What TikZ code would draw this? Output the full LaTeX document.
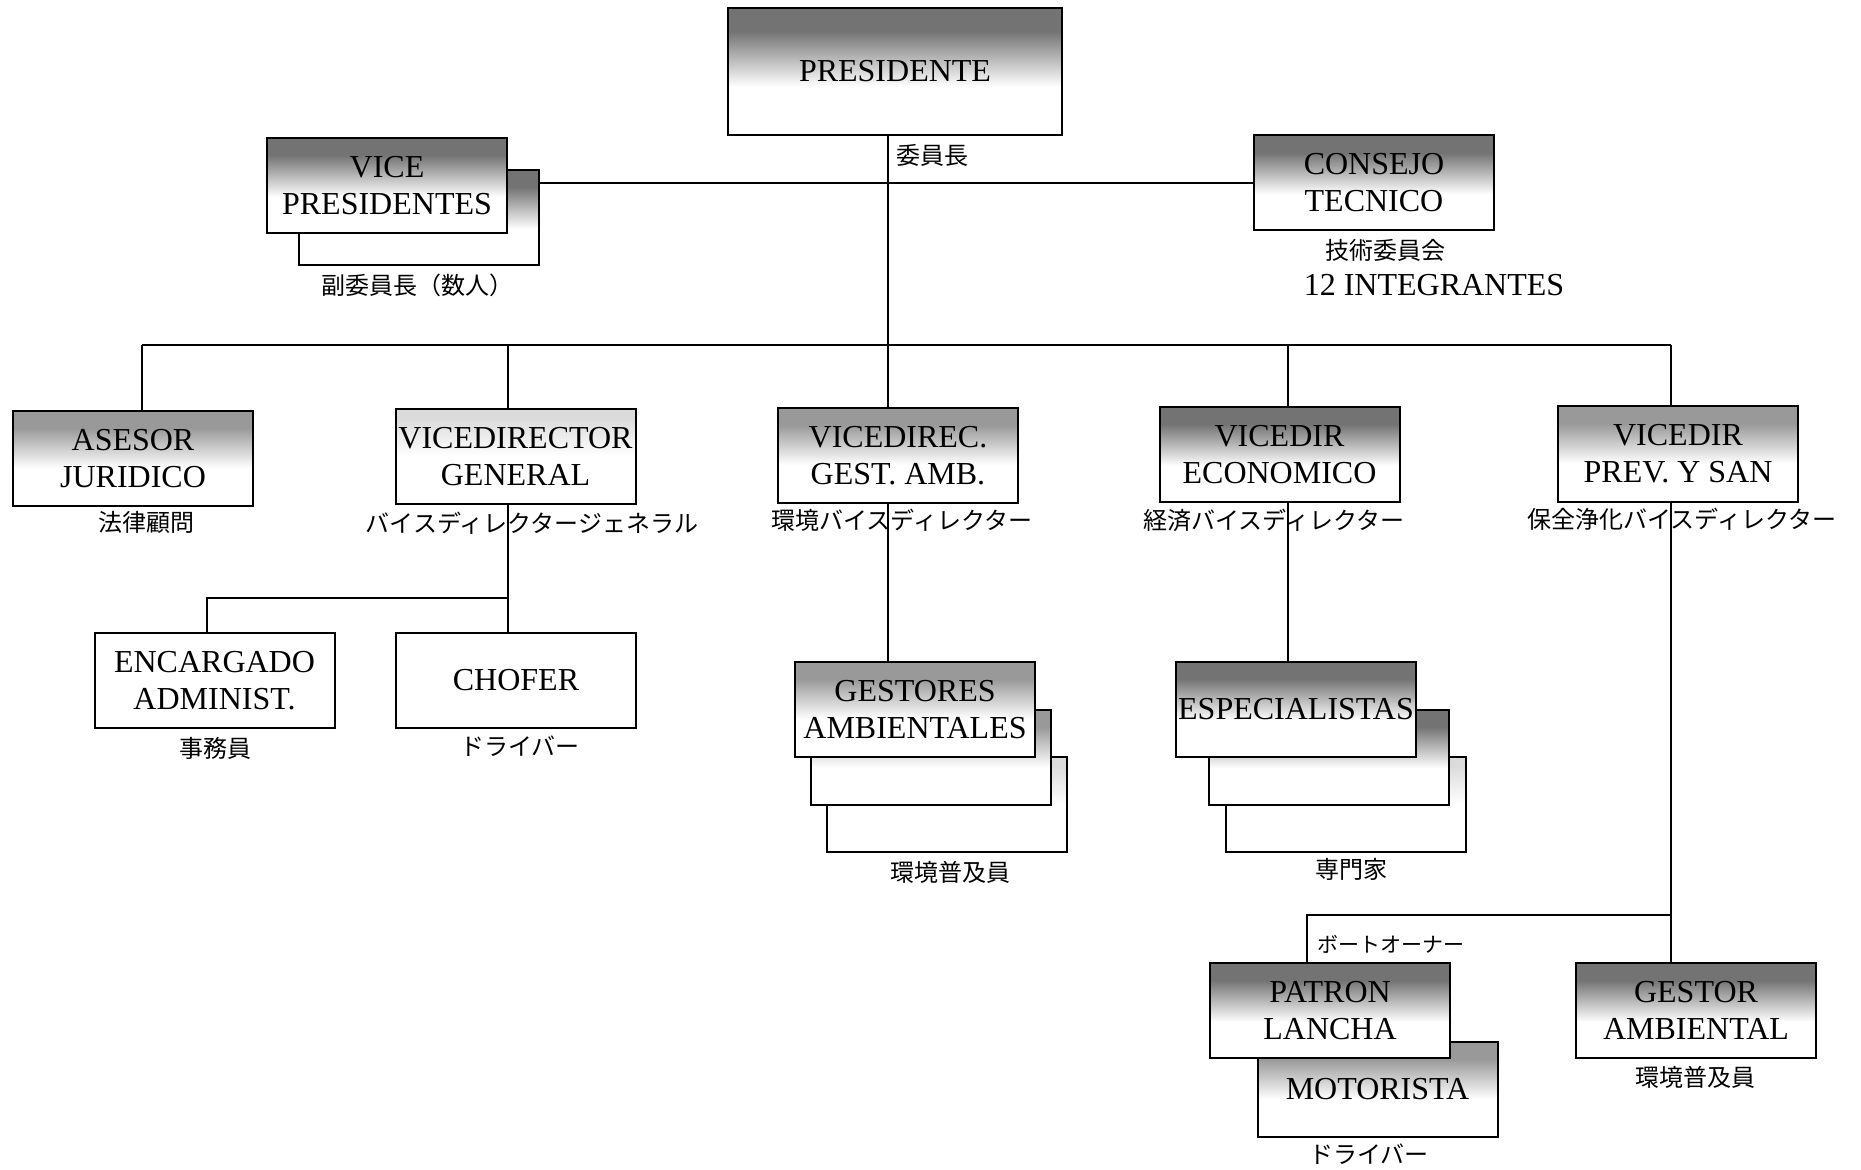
\documentclass[tikz,border=0pt]{standalone}
\usepackage{fontspec}
\setmainfont{Liberation Serif}
\newfontfamily\jp{Noto Sans CJK JP}
\pgfdeclareverticalshading{shdark}{100bp}{color(0bp)=(white); color(44bp)=(white); color(66bp)=(black!55); color(100bp)=(black!55)}
\pgfdeclareverticalshading{shmid}{100bp}{color(0bp)=(white); color(45bp)=(white); color(66bp)=(black!40); color(100bp)=(black!40)}
\pgfdeclareverticalshading{shlight}{100bp}{color(0bp)=(white); color(50bp)=(white); color(70bp)=(black!14); color(100bp)=(black!14)}
\tikzset{
  box/.style={draw=black, line width=1pt, inner sep=0pt, align=center,
    font=\fontsize{16}{18.5}\selectfont, minimum width=120pt, minimum height=47.5pt},
  dk/.style={shade, shading=shdark},
  md/.style={shade, shading=shmid},
  lt/.style={shade, shading=shlight},
  wt/.style={fill=white},
  jlab/.style={font=\jp\fontsize{12}{14}\selectfont, inner sep=0pt},
  conn/.style={line width=0.9pt}
}
\begin{document}
\begin{tikzpicture}[x=0.5pt,y=-0.5pt]
\useasboundingbox[fill=white] (0,0) rectangle (1861,1170);

% boxes
\node[box,dk,minimum width=167pt,minimum height=63.5pt] (pres) at (895,71.5) {PRESIDENTE};
\node[box,dk] (vpback) at (419,217.5) {};
\node[box,dk] (vp) at (387,185.5) {VICE\\PRESIDENTES};
\node[box,dk] (consejo) at (1374,183) {CONSEJO\\TECNICO};

\node[box,md] (asesor) at (133,458.5) {ASESOR\\JURIDICO};
\node[box,lt] (vdg) at (515.5,456.5) {VICEDIRECTOR\\GENERAL};
\node[box,md] (vdga) at (898,455.5) {VICEDIREC.\\GEST. AMB.};
\node[box,dk] (vde) at (1279.5,454.5) {VICEDIR\\ECONOMICO};
\node[box,md] (vdp) at (1678,454) {VICEDIR\\PREV. Y SAN};

\node[box,wt] (enc) at (214.5,680.5) {ENCARGADO\\ADMINIST.};
\node[box,wt] (chofer) at (516,680.5) {CHOFER};

\node[box,lt] (gest3) at (946.5,804.5) {};
\node[box,md] (gest2) at (931,757.5) {};
\node[box,md] (gest1) at (915,709.5) {GESTORES\\AMBIENTALES};

\node[box,lt] (esp3) at (1345.5,804) {};
\node[box,dk] (esp2) at (1329,757) {};
\node[box,dk] (esp1) at (1296,709) {ESPECIALISTAS};

\node[box,md] (motor) at (1377.5,1089.5) {MOTORISTA};
\node[box,dk] (patron) at (1330,1010.5) {PATRON\\LANCHA};
\node[box,dk] (gestor) at (1696,1010.5) {GESTOR\\AMBIENTAL};

% labels
\node[jlab] (lpres) at (932,155) {委員長};
\node[jlab] (lvp) at (417,285) {副委員長（数人）};
\node[jlab] (lcons) at (1385,250) {技術委員会};
\node[font=\fontsize{16}{18}\selectfont, inner sep=0pt] (lint) at (1434,285) {12 INTEGRANTES};
\node[jlab] (lase) at (146,522) {法律顧問};
\node[jlab] (lvdg) at (532,523) {バイスディレクタージェネラル};
\node[jlab] (lvdga) at (902,520) {環境バイスディレクター};
\node[jlab] (lvde) at (1274,520) {経済バイスディレクター};
\node[jlab] (lvdp) at (1682,519) {保全浄化バイスディレクター};
\node[jlab] (lenc) at (215,748) {事務員};
\node[jlab] (lcho) at (520,746) {ドライバー};
\node[jlab] (lgest) at (950,872) {環境普及員};
\node[jlab] (lesp) at (1351,869) {専門家};
\node[jlab, font=\jp\fontsize{10.5}{12}\selectfont] (lpat) at (1391,944) {ボートオーナー};
\node[jlab] (lgestor) at (1695,1077) {環境普及員};
\node[jlab] (lmot) at (1369,1154) {ドライバー};

% junction coordinates
\coordinate (tr) at (888,345);
\coordinate (d1) at (142,345);
\coordinate (d2) at (508,345);
\coordinate (d4) at (1288,345);
\coordinate (d5) at (1671,345);
\coordinate (e1) at (207,598);
\coordinate (p1) at (1307,915);

% connectors
\draw[conn] (tr |- pres.south) -- (tr |- vdga.north);
\draw[conn] (vpback.east |- consejo.west) -- (consejo.west);
\draw[conn] (d1) -- (d5);
\draw[conn] (d1) -- (d1 |- asesor.north);
\draw[conn] (d2) -- (d2 |- vdg.north);
\draw[conn] (d4) -- (d4 |- vde.north);
\draw[conn] (d5) -- (d5 |- vdp.north);
\draw[conn] (d2 |- vdg.south) -- (d2 |- chofer.north);
\draw[conn] (d2 |- e1) -- (e1) -- (e1 |- enc.north);
\draw[conn] (tr |- vdga.south) -- (tr |- gest1.north);
\draw[conn] (d4 |- vde.south) -- (d4 |- esp1.north);
\draw[conn] (d5 |- vdp.south) -- (d5 |- gestor.north);
\draw[conn] (d5 |- p1) -- (p1) -- (p1 |- patron.north);
\end{tikzpicture}
\end{document}
